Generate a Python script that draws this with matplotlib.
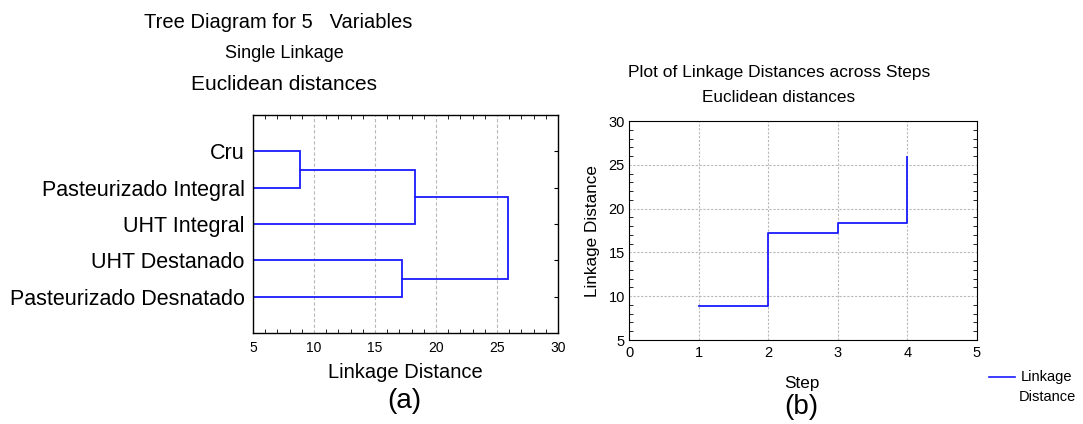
import matplotlib
matplotlib.use("Agg")
import matplotlib.pyplot as plt
from matplotlib.lines import Line2D
from matplotlib.ticker import MultipleLocator

plt.rcParams['font.family'] = ['Liberation Sans', 'DejaVu Sans']

# ---- data ----
leaf_labels = ['Cru', 'Pasteurizado Integral', 'UHT Integral',
               'UHT Destanado', 'Pasteurizado Desnatado']
# merges (scipy-like indices: leaves 0..4, new clusters 5,6,7,8)
merge_pairs = [(0, 1), (3, 4), (5, 2), (6, 7)]
steps = [1, 2, 3, 4]
linkage_dist = [8.85, 17.2, 18.3, 25.9]

BLUE = '#1a1aff'
GRID = '#b8b8b8'
W, H = 1083.0, 424.0

fig = plt.figure(figsize=(10.83, 4.24), dpi=100)

def fx(px):
    return px / W

def fy(py):
    return 1 - py / H

# ---------------- (a) dendrogram ----------------
ax1 = fig.add_axes([0.2336, 0.2146, 0.2816, 0.514])
pos = {i: (i + 1, 5.0) for i in range(len(leaf_labels))}  # node -> (y, x)
for k, ((a, b), d) in enumerate(zip(merge_pairs, linkage_dist)):
    ya, xa = pos[a]
    yb, xb = pos[b]
    ax1.plot([xa, d, d, xb], [ya, ya, yb, yb], color=BLUE, lw=1.3,
             solid_joinstyle='miter')
    pos[len(leaf_labels) + k] = ((ya + yb) / 2.0, d)

ax1.set_xlim(5, 30)
ax1.set_ylim(6, 0)
ax1.set_xticks([5, 10, 15, 20, 25, 30])
ax1.xaxis.set_minor_locator(MultipleLocator(1))
ax1.set_yticks(range(1, 6))
ax1.set_yticklabels(leaf_labels, fontsize=15.5)
ax1.tick_params(axis='y', which='both', left=False, right=True, direction='in',
                length=3, pad=6)
ax1.tick_params(axis='x', which='both', top=True, bottom=True, direction='in',
                labelsize=10, pad=6)
ax1.tick_params(axis='x', which='major', length=0)
ax1.tick_params(axis='x', which='minor', length=3)
ax1.grid(axis='x', which='major', color=GRID, linestyle=(0, (3, 2)), lw=0.8)
for s in ax1.spines.values():
    s.set_linewidth(1.0)
ax1.set_xlabel('Linkage Distance', fontsize=14.5)
ax1.xaxis.set_label_coords(0.5, (333 - 373) / 218.0)
ax1.xaxis.label.set_va('center')

fig.text(fx(278), fy(22.5), 'Tree Diagram for 5   Variables', ha='center', va='center', fontsize=14.5)
fig.text(fx(284), fy(54), 'Single Linkage', ha='center', va='center', fontsize=13)
fig.text(fx(284), fy(85), 'Euclidean distances', ha='center', va='center', fontsize=15)
fig.text(fx(404), fy(401), '(a)', ha='center', va='center', fontsize=20)

# ---------------- (b) linkage distances across steps ----------------
ax2 = fig.add_axes([0.5808, 0.1981, 0.3213, 0.5165])
ax2.plot(steps, linkage_dist, drawstyle='steps-post', color=BLUE, lw=1.3)
ax2.set_xlim(0, 5)
ax2.set_ylim(5, 30)
ax2.set_xticks(range(0, 6))
ax2.set_yticks([5, 10, 15, 20, 25, 30])
ax2.yaxis.set_minor_locator(MultipleLocator(1))
ax2.tick_params(axis='both', which='major', length=0, labelsize=10.5)
ax2.tick_params(axis='y', which='minor', left=True, right=True, direction='in', length=3)
ax2.tick_params(axis='x', which='both', top=True, direction='in')
ax2.tick_params(axis='x', pad=4)
ax2.tick_params(axis='y', pad=3)
ax2.grid(True, which='major', color=GRID, linestyle=(0, (2, 1.5)), lw=0.8)
ax2.set_xlabel('Step', fontsize=12.3)
ax2.xaxis.set_label_coords((802 - 629) / 348.0, (340 - 383) / 219.0)
ax2.xaxis.label.set_va('center')
ax2.set_ylabel('Linkage Distance', fontsize=12.3, labelpad=6)

fig.text(fx(779), fy(72), 'Plot of Linkage Distances across Steps', ha='center', va='center', fontsize=12.5)
fig.text(fx(779), fy(98), 'Euclidean distances', ha='center', va='center', fontsize=12.3)
fig.text(fx(801), fy(407), '(b)', ha='center', va='center', fontsize=20)

# legend
fig.add_artist(Line2D([fx(989), fx(1015)], [fy(377), fy(377)], color=BLUE, lw=1.2,
                      transform=fig.transFigure))
fig.text(fx(1047), fy(377), 'Linkage', ha='center', va='center', fontsize=10.5)
fig.text(fx(1047), fy(397), 'Distance', ha='center', va='center', fontsize=10.5)

fig.savefig('out.png', dpi=100)
